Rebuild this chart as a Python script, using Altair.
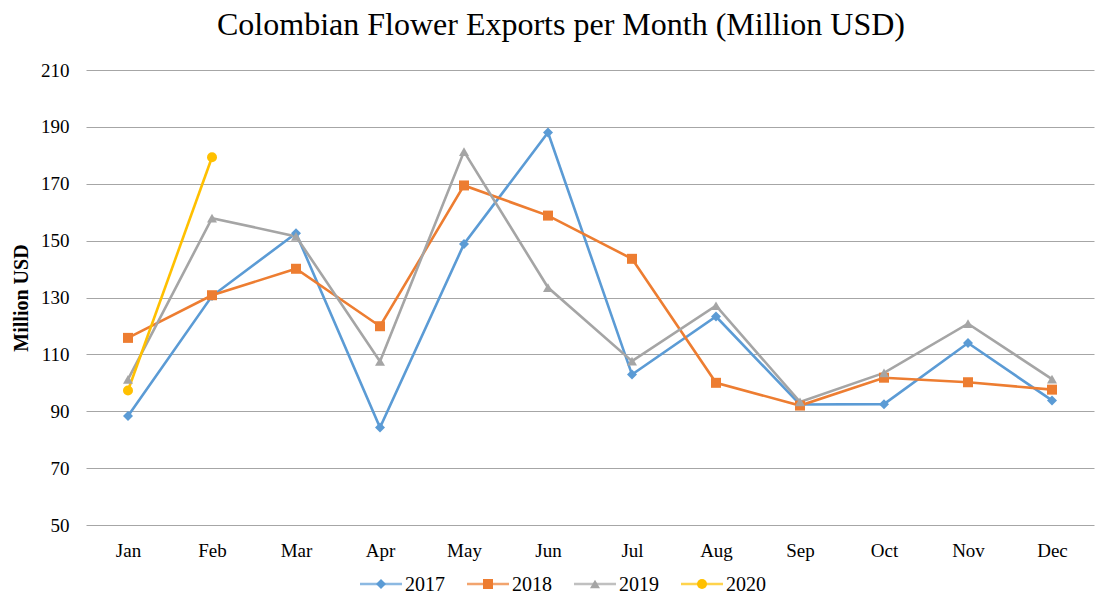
import altair as alt
import pandas as pd

months = ["Jan", "Feb", "Mar", "Apr", "May", "Jun", "Jul", "Aug", "Sep", "Oct", "Nov", "Dec"]
series_names = ["2017", "2018", "2019", "2020"]
v2017 = [88.3, 130.5, 152.6, 84.3, 148.8, 188.0, 102.9, 123.3, 92.4, 92.5, 114.0, 93.8]
v2018 = [115.8, 130.8, 140.1, 119.9, 169.4, 158.8, 143.6, 100.0, 92.0, 101.8, 100.2, 97.6]
v2019 = [101.2, 157.9, 151.5, 107.5, 181.3, 133.5, 107.6, 127.1, 93.3, 103.5, 120.8, 101.3]
v2020 = [97.3, 179.3]
colors = ["#5B9BD5", "#ED7D31", "#A5A5A5", "#FFC000"]
shapes = ["diamond", "square", "triangle-up", "circle"]
y_ticks = [50, 70, 90, 110, 130, 150, 170, 190, 210]

rows = []
for name, vals in zip(series_names, [v2017, v2018, v2019, v2020]):
    for m, v in zip(months, vals):
        rows.append({"month": m, "value": v, "series": name})
df = pd.DataFrame(rows)
legend_df = pd.DataFrame({"series": series_names})

FONT = "Liberation Serif"

x_enc = alt.X("month:O", sort=months, scale=alt.Scale(domain=months, padding=0.5),
              axis=alt.Axis(title=None, labelAngle=0, ticks=False, domain=False, grid=False,
                            labelFontSize=19, labelFont=FONT, labelColor="#000000", labelPadding=16))
y_enc = alt.Y("value:Q", scale=alt.Scale(domain=[50, 210], nice=False, zero=False),
              axis=alt.Axis(values=y_ticks, title="Million USD", ticks=False, domain=False,
                            grid=True, gridColor="#A6A6A6", gridWidth=1,
                            labelFontSize=19, labelFont=FONT, labelColor="#000000", labelPadding=17,
                            titleFont=FONT, titleFontSize=20, titleFontWeight="bold", titleColor="#000000",
                            titleX=-59, titleBaseline="alphabetic"))
color_enc = alt.Color("series:N", scale=alt.Scale(domain=series_names, range=colors), legend=None)
shape_enc = alt.Shape("series:N", scale=alt.Scale(domain=series_names, range=shapes), legend=None)

lines = alt.Chart(df).mark_line(strokeWidth=2.6).encode(x=x_enc, y=y_enc, color=color_enc, detail="series:N")
points = alt.Chart(df).mark_point(filled=True, size=100, opacity=1).encode(
    x=x_enc, y=y_enc, color=color_enc, shape=shape_enc)

lx = alt.X("series:N", sort=series_names,
           scale=alt.Scale(type="point", domain=series_names, range=[295, 616], padding=0), axis=None)
leg_line = alt.Chart(legend_df).mark_tick(orient="horizontal", size=42, thickness=2.6).encode(
    x=lx, y=alt.value(514), color=color_enc)
leg_pt = alt.Chart(legend_df).mark_point(filled=True, size=100, opacity=1).encode(
    x=lx, y=alt.value(514), color=color_enc, shape=shape_enc)
leg_txt = alt.Chart(legend_df).mark_text(align="left", baseline="middle", dx=24, fontSize=20,
                                         font=FONT, color="#000000").encode(
    x=lx, y=alt.value(515), text="series:N")

main = alt.layer(lines, points)
legend = alt.layer(leg_line, leg_pt, leg_txt)

chart = alt.layer(main, legend).resolve_scale(x="independent").properties(
    width=1008, height=455,
    autosize=alt.AutoSizeParams(type="none"),
    padding={"left": 86, "top": 70, "right": 2, "bottom": 70},
    title=alt.TitleParams("Colombian Flower Exports per Month (Million USD)", font=FONT, fontSize=32,
                          fontWeight="normal", color="#000000", anchor="middle", dx=-29, offset=19),
).configure_view(stroke=None)

chart.save("out.html", embed_options={"renderer": "svg", "actions": False})
